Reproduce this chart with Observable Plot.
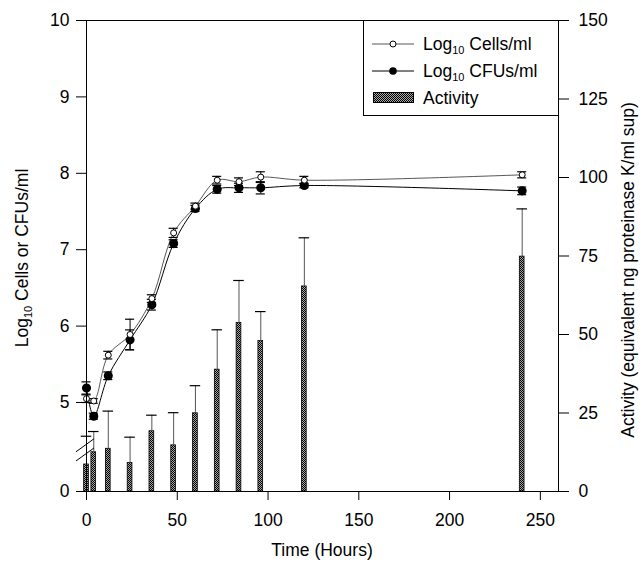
<!DOCTYPE html>
<html><head><meta charset="utf-8">
<script src="https://cdn.jsdelivr.net/npm/d3@7"></script>
<script src="https://cdn.jsdelivr.net/npm/@observablehq/plot@0.6"></script>
<style>
body{margin:0;background:#fff;font-family:"Liberation Sans",Arial,sans-serif;}
#wrap{position:relative;width:641px;height:561px;}
#legend{position:absolute;left:363px;top:20px;width:196px;height:96px;border:1px solid #000;background:#fff;box-sizing:border-box;font-size:17.5px;color:#000;}
.row{position:absolute;left:0;height:24px;line-height:24px;}
.row svg{position:absolute;left:8px;top:0;}
.row span{position:absolute;left:59px;top:0;white-space:nowrap;}
.row sub{font-size:11px;vertical-align:-4px;line-height:0;}
.sw{position:absolute;left:9px;top:6px;width:41px;height:11px;border:1px solid #000;box-sizing:border-box;background:repeating-conic-gradient(#000 0 25%,#a8a8a8 0 50%) 0 0/2px 2px;}
</style></head>
<body><div id="wrap"></div>
<script>
const times      = [0, 4, 12, 24, 36, 48, 60, 72, 84, 96, 120, 240];
const cells      = [5.05, 5.02, 5.62, 5.89, 6.36, 7.22, 7.57, 7.91, 7.89, 7.95, 7.91, 7.98];
const cellsErr   = [0.05, 0.03, 0.05, 0.20, 0.05, 0.06, 0.04, 0.05, 0.05, 0.07, 0.05, 0.04];
const cfus       = [5.19, 4.82, 5.35, 5.82, 6.28, 7.08, 7.54, 7.79, 7.81, 7.81, 7.84, 7.77];
const cfusErr    = [0.08, 0.04, 0.05, 0.13, 0.07, 0.05, 0.04, 0.05, 0.06, 0.08, 0.03, 0.05];
const activity   = [8.6, 12.5, 13.6, 9.1, 19.2, 14.7, 24.9, 38.8, 53.7, 47.9, 65.3, 74.8];
const activityErr= [9.0, 6.6, 12.0, 8.2, 5.1, 10.4, 8.8, 12.7, 13.5, 9.4, 15.5, 15.2];

const xTicks = [0, 50, 100, 150, 200, 250];
const leftTickValues = [3.835, 5, 6, 7, 8, 9, 10];
const leftTickLabels = ["0", "5", "6", "7", "8", "9", "10"];
const rightTicks = [0, 25, 50, 75, 100, 125, 150];

const lo = 3.835, hi = 10;
const toAct = v => (v - lo) * 150 / (hi - lo);
const labelMap = new Map(leftTickValues.map((v, i) => [toAct(v), leftTickLabels[i]]));

const rows = times.map((t, i) => ({t, cells: cells[i], cellsErr: cellsErr[i], cfus: cfus[i], cfusErr: cfusErr[i], act: activity[i], actErr: activityErr[i]}));

const cap = 2.5, barHalf = 1.3, actCap = 2.9;
const errMarks = (key, ekey) => [
  Plot.ruleX(rows, {x: "t", y1: d => toAct(d[key] - d[ekey]), y2: d => toAct(d[key] + d[ekey]), stroke: "#000", strokeWidth: 1}),
  Plot.ruleY(rows, {y: d => toAct(d[key] + d[ekey]), x1: d => d.t - cap, x2: d => d.t + cap, stroke: "#000", strokeWidth: 1.2}),
  Plot.ruleY(rows, {y: d => toAct(d[key] - d[ekey]), x1: d => d.t - cap, x2: d => d.t + cap, stroke: "#000", strokeWidth: 1.2})
];

const plot = Plot.plot({
  width: 641, height: 561,
  marginLeft: 86, marginRight: 83, marginTop: 20, marginBottom: 70,
  style: {fontFamily: "Liberation Sans, Arial, sans-serif", fontSize: "17.5px", background: "#fff", color: "#000"},
  x: {domain: [0, 260]},
  y: {domain: [0, 150]},
  marks: [
    Plot.rectY(rows, {x1: d => d.t - barHalf, x2: d => d.t + barHalf, y1: 0, y2: "act", fill: "url(#stip)", stroke: "#000", strokeWidth: 0.8}),
    Plot.ruleX(rows, {x: "t", y1: "act", y2: d => d.act + d.actErr, stroke: "#555", strokeWidth: 1}),
    Plot.ruleY(rows, {y: d => d.act + d.actErr, x1: d => d.t - actCap, x2: d => d.t + actCap, stroke: "#000", strokeWidth: 1.2}),
    Plot.line(rows, {x: "t", y: d => toAct(d.cells), curve: "catmull-rom", stroke: "#444", strokeWidth: 0.9}),
    Plot.line(rows, {x: "t", y: d => toAct(d.cfus), curve: "catmull-rom", stroke: "#000", strokeWidth: 1}),
    ...errMarks("cells", "cellsErr"),
    ...errMarks("cfus", "cfusErr"),
    Plot.dot(rows, {x: "t", y: d => toAct(d.cfus), r: 3.8, fill: "#000", stroke: "#000"}),
    Plot.dot(rows, {x: "t", y: d => toAct(d.cells), r: 3, fill: "#fff", stroke: "#000", strokeWidth: 1}),
    Plot.axisX({ticks: xTicks, tickSize: 9, tickPadding: 13, label: null}),
    Plot.axisY({ticks: leftTickValues.map(toAct), anchor: "left", tickSize: 10, tickPadding: 7, tickFormat: d => labelMap.get(d), label: null}),
    Plot.axisY({ticks: rightTicks, anchor: "right", tickSize: 10, tickPadding: 10, label: null}),
    Plot.frame({stroke: "#000"})
  ]
});

const svg = d3.select(plot);
const defs = svg.insert("defs", ":first-child");
const pat = defs.append("pattern").attr("id", "stip").attr("width", 2).attr("height", 2).attr("patternUnits", "userSpaceOnUse");
pat.append("rect").attr("width", 2).attr("height", 2).attr("fill", "#a8a8a8");
pat.append("rect").attr("width", 1).attr("height", 1).attr("fill", "#000");
pat.append("rect").attr("x", 1).attr("y", 1).attr("width", 1).attr("height", 1).attr("fill", "#000");

// axis break marks
const sx = plot.scale("x"), sy = plot.scale("y");
const bx = sx.apply(0);
[4.44, 4.32].forEach(v => {
  const by = sy.apply(toAct(v));
  svg.append("line").attr("x1", bx - 10).attr("y1", by + 7).attr("x2", bx + 8).attr("y2", by - 6).attr("stroke", "#000").attr("stroke-width", 1);
});

// axis titles
const lt = svg.append("text").attr("transform", "translate(22,258) rotate(-90)").attr("text-anchor", "middle").attr("dy", "0.35em").attr("font-size", 17.5).attr("fill", "#000");
lt.append("tspan").text("Log");
lt.append("tspan").attr("font-size", 11).attr("dy", 4).text("10");
lt.append("tspan").attr("dy", -4).text(" Cells or CFUs/ml");

svg.append("text").attr("transform", "translate(628,270) rotate(-90)").attr("text-anchor", "middle").attr("dy", "0.35em").attr("font-size", 17.5).attr("fill", "#000").text("Activity (equivalent ng proteinase K/ml sup)");
svg.append("text").attr("x", 322).attr("y", 556).attr("text-anchor", "middle").attr("font-size", 17.5).attr("fill", "#000").text("Time (Hours)");

const wrap = document.getElementById("wrap");
wrap.appendChild(plot);

const legend = document.createElement("div");
legend.id = "legend";
legend.innerHTML = `
<div class="row" style="top:11px;width:190px"><svg width="44" height="24"><line x1="0" y1="12" x2="42" y2="12" stroke="#444" stroke-width="0.9"/><circle cx="21" cy="12" r="3" fill="#fff" stroke="#000"/></svg><span>Log<sub>10</sub> Cells/ml</span></div>
<div class="row" style="top:38px;width:190px"><svg width="44" height="24"><line x1="0" y1="12" x2="42" y2="12" stroke="#000" stroke-width="1"/><circle cx="21" cy="12" r="3.8" fill="#000"/></svg><span>Log<sub>10</sub> CFUs/ml</span></div>
<div class="row" style="top:65px;width:190px"><div class="sw"></div><span>Activity</span></div>`;
wrap.appendChild(legend);
</script>
</body></html>
